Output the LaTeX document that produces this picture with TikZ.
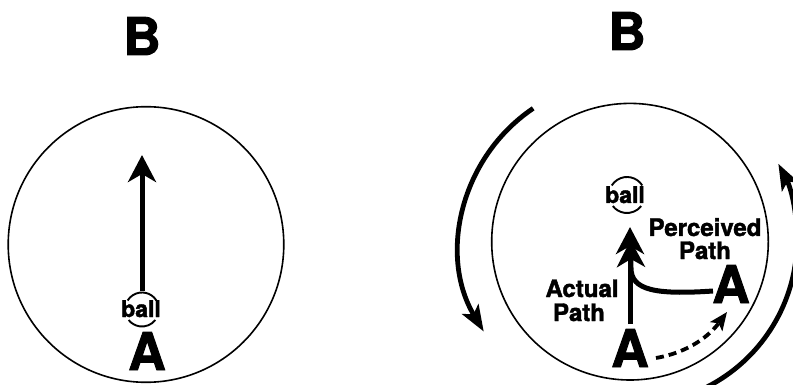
\documentclass[tikz,border=0pt]{standalone}
\usepackage{fontspec}
\setmainfont{TeX Gyre Heros}[BoldFeatures={FakeBold=1.8}]
\usetikzlibrary{arrows.meta}
\begin{document}
\begin{tikzpicture}[x=1pt,y=-1pt,
  lbl/.style={font=\bfseries\fontsize{24}{24}\selectfont, inner sep=0pt, anchor=base},
  bigletter/.style={font=\bfseries\fontsize{52}{52}\selectfont, inner sep=0pt, anchor=base},
  balltext/.style={font=\bfseries\fontsize{23}{23}\selectfont, inner sep=0pt, anchor=base},
  ring/.style={line width=1.6pt},
  ballarc/.style={line width=1.9pt},
  mainarrow/.style={line width=5pt, -{Stealth[length=27pt,width=28pt,inset=8pt]}},
  rotarrow/.style={line width=4.8pt, -{Stealth[length=26pt,width=19pt,inset=6pt]}},
  dasharrow/.style={line width=3.8pt, dash pattern=on 8pt off 5pt, -{Stealth[length=18pt,width=15pt,inset=4pt]}}
]
\useasboundingbox (0,0) rectangle (793,385);
\fill[white] (0,0) rectangle (793,385);
\clip (0,0) rectangle (793,385);

% ---------- left panel ----------
\node[bigletter] (BL) at (142,55) {B};
\coordinate (cL) at (146,244.5);
\draw[ring] (cL) circle[radius=137.8];
\coordinate (ballLc) at (142,309.5);
\draw[ballarc] (ballLc) ++(-32:17) arc[start angle=-32,end angle=-148,radius=17];
\draw[ballarc] (ballLc) ++(38:17) arc[start angle=38,end angle=142,radius=17];
\node[balltext] (ballL) at (141,317) {ball};
\node[bigletter] (AL) at (147,370) {A};
\coordinate (ballLtop) at (142,291);
\coordinate (tipL) at (142,155);
\draw[mainarrow] (ballLtop) -- (tipL);

% ---------- right panel ----------
\node[bigletter] (BR) at (627,50) {B};
\coordinate (cR) at (630,241.7);
\draw[ring] (cR) circle[radius=138.3];
\coordinate (ballRc) at (627,195);
\draw[ballarc] (ballRc) ++(-32:18) arc[start angle=-32,end angle=-148,radius=18];
\draw[ballarc] (ballRc) ++(38:18) arc[start angle=38,end angle=142,radius=18];
\node[balltext] (ballR) at (625,203) {ball};

\node[bigletter] (A1) at (630,367) {A};
\node[bigletter] (A2) at (731,303) {A};

\node[lbl] (perc1) at (705,236) {Perceived};
\node[lbl] (perc2) at (705,259) {Path};
\node[lbl] (act1) at (582,297) {Actual};
\node[lbl] (act2) at (579,321) {Path};

% actual path
\coordinate (actS) at (630,324);
\coordinate (actT) at (630,227);
\draw[mainarrow] (actS) -- (actT);
% perceived path
\coordinate (percS) at (713,291);
\coordinate (percT) at (630.5,240);
\draw[mainarrow] (percS) .. controls (655,295) and (631,290) .. (631,268) -- (percT);
% dashed movement of A
\coordinate (dS) at (656,358);
\coordinate (dT) at (727,312);
\draw[dasharrow] (dS) .. controls (690,352) and (710,335) .. (dT);

% rotation arrows
\coordinate (oL) at (626,246);
\draw[rotarrow] (oL) ++(-124:166) arc[start angle=-124,end angle=-211,radius=166];
\coordinate (oR) at (632,240);
\draw[rotarrow] (oR) ++(63:165) arc[start angle=63,end angle=-27.5,radius=165];
\end{tikzpicture}
\end{document}
